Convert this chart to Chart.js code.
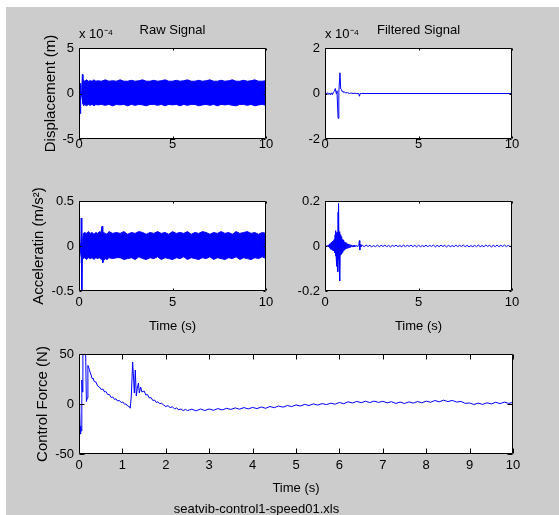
<!DOCTYPE html>
<html><head><meta charset="utf-8">
<script src="https://cdn.jsdelivr.net/npm/chart.js@4.4.1/dist/chart.umd.min.js"></script>
<style>
html,body{margin:0;padding:0;background:#fff;width:559px;height:515px;overflow:hidden}
#bg{position:absolute;left:6px;top:7px;width:553px;height:508px;background:#cccccc}
canvas{position:absolute;left:0;top:0}
</style></head><body>
<div id="bg"></div>
<canvas id="c1" width="559" height="515"></canvas>
<canvas id="c2" width="559" height="515"></canvas>
<canvas id="c3" width="559" height="515"></canvas>
<canvas id="c4" width="559" height="515"></canvas>
<canvas id="c5" width="559" height="515"></canvas>
<script>
// ---------- DATA ----------
// Raw displacement (x 1e-4 m): envelope of the dense oscillation
const dispRawT = [0,0.03,0.06,0.09,0.12,0.15,0.18,0.21,0.25,0.3,0.4,0.5,0.6,0.7,0.8,0.9,1.0,
  1.2,1.4,1.6,1.8,2.0,2.2,2.4,2.6,2.8,3.0,3.2,3.4,3.6,3.8,4.0,4.2,4.4,4.6,4.8,5.0,5.2,5.4,5.6,5.8,
  6.0,6.2,6.4,6.6,6.8,7.0,7.2,7.4,7.6,7.8,8.0,8.2,8.4,8.6,8.8,9.0,9.2,9.4,9.6,9.8,10.0];
const dispRawUp = [0,0.3,1.1,0.4,0.2,0.6,2.1,1.2,1.45,1.35,1.5,1.35,1.4,1.35,1.5,1.35,1.4,
  1.35,1.5,1.35,1.4,1.35,1.5,1.35,1.35,1.45,
  1.35,1.4,1.5,1.35,1.35,1.45,1.35,1.4,1.5,
  1.35,1.35,1.45,1.35,1.4,1.5,1.35,1.35,1.45,
  1.35,1.4,1.5,1.35,1.35,1.45,1.35,1.4,1.5,
  1.35,1.35,1.45,1.35,1.4,1.5,1.35,1.35,1.4];
const dispRawLo = [0,-0.5,-2.2,-0.8,-0.3,-0.2,-0.2,-1.1,-1.35,-1.2,-1.35,-1.2,-1.3,-1.2,-1.35,-1.2,-1.25,
  -1.2,-1.3,-1.2,-1.35,-1.2,-1.25,-1.2,-1.35,-1.2,
  -1.3,-1.2,-1.25,-1.35,-1.2,-1.2,-1.3,-1.2,-1.35,
  -1.2,-1.25,-1.2,-1.35,-1.2,-1.3,-1.2,-1.2,-1.35,
  -1.25,-1.2,-1.3,-1.2,-1.35,-1.2,-1.25,-1.2,-1.3,
  -1.35,-1.2,-1.2,-1.3,-1.2,-1.35,-1.25,-1.2,-1.3];

// Raw acceleration (m/s^2): envelope
const accRawT = [0,0.02,0.05,0.08,0.1,0.12,0.14,0.16,0.18,0.2,
  0.23,0.3,0.4,0.5,0.6,0.7,0.8,0.9,1.0,1.1,
  1.18,1.23,1.27,1.32,1.4,1.5,1.6,1.8,2.0,
  2.2,2.4,2.6,2.8,3.0,3.2,3.4,3.6,3.8,4.0,4.2,4.4,4.6,4.8,5.0,5.2,5.4,5.6,5.8,6.0,
  6.2,6.4,6.6,6.8,7.0,7.2,7.4,7.6,7.8,8.0,8.2,8.4,8.6,8.8,9.0,9.2,9.4,9.6,9.8,10.0];
const accRawUp = [0,0.07,0.04,0.03,0.05,0.31,0.05,0.02,0.04,0.08,
  0.14,0.15,0.14,0.16,0.14,0.15,0.13,0.15,0.14,0.16,
  0.15,0.22,0.14,0.15,0.14,0.13,0.16,0.14,0.15,
  0.14,0.16,0.13,0.15,0.14,0.16,0.15,0.13,0.15,0.14,
  0.16,0.14,0.15,0.13,0.16,0.14,0.15,0.14,0.16,0.13,
  0.15,0.14,0.16,0.15,0.13,0.15,0.14,0.16,0.14,0.15,
  0.13,0.16,0.14,0.15,0.16,0.14,0.15,0.13,0.15,0.14];
const accRawLo = [0,-0.19,-0.12,-0.06,-0.03,-0.02,-0.05,-0.49,-0.1,-0.12,
  -0.14,-0.13,-0.15,-0.13,-0.14,-0.13,-0.15,-0.13,-0.14,-0.13,
  -0.15,-0.14,-0.185,-0.16,-0.14,-0.15,-0.13,-0.14,-0.13,
  -0.13,-0.15,-0.14,-0.13,-0.15,-0.12,-0.14,-0.15,-0.13,-0.14,
  -0.12,-0.15,-0.13,-0.14,-0.15,-0.13,-0.14,-0.12,-0.15,-0.13,
  -0.14,-0.15,-0.13,-0.14,-0.12,-0.15,-0.13,-0.14,-0.15,-0.13,
  -0.14,-0.12,-0.15,-0.13,-0.14,-0.15,-0.13,-0.14,-0.12,-0.14];

// Filtered displacement (x 1e-4 m)
const dispFiltT = [0,0.1,0.15,0.2,0.25,0.3,0.35,0.4,0.45,0.5,0.55,0.6,0.64,0.7,0.74,0.8,0.84,0.88,0.92,0.96,
  1.0,1.05,1.1,1.2,1.3,1.4,1.5,1.6,1.7,1.8,1.84,1.88,1.95,2.2,10];
const dispFiltV = [0,0,0.03,-0.04,0.02,-0.06,0.03,-0.05,0.06,0.1,0.22,0.0,0.12,-1.09,0.05,0.91,0.2,0.18,0.08,0.1,
  0.04,0.07,0.02,0.04,0.0,0.02,0.0,0.01,0.0,0.0,-0.12,0.0,0.0,0.0,0.0];

// Filtered acceleration (m/s^2)
const accFiltT = [0,0.1,0.18,
  0.2,0.22,0.24,0.26,0.28,0.3,0.32,0.34,0.36,0.38,0.4,0.42,0.44,0.46,0.48,0.5,0.52,0.54,0.56,0.58,0.6,0.62,0.64,0.66,0.68,0.7,0.72,
  0.73,0.75,0.77,0.8,0.82,0.84,0.86,0.88,0.9,0.92,0.94,0.96,0.98,1.0,
  1.03,1.06,1.09,1.12,1.15,1.18,1.21,1.24,1.27,1.3,1.33,1.36,
  1.4,1.45,1.5,1.55,1.6,1.65,1.7,1.75,1.8,
  1.84,1.86,1.88,1.92,1.97];
const accFiltV = [0,0,0.002,
  -0.004,0.006,-0.008,0.01,-0.012,0.012,-0.014,0.016,-0.015,0.018,-0.02,0.022,-0.018,0.025,-0.022,0.03,-0.03,0.05,-0.045,0.068,-0.055,0.06,-0.09,0.06,-0.114,0.15,-0.06,
  0.19,-0.07,0.064,-0.155,0.05,-0.04,0.041,-0.035,0.035,-0.03,0.03,-0.025,0.025,-0.02,
  0.018,-0.016,0.015,-0.012,0.012,-0.01,0.01,-0.008,0.009,-0.007,0.007,-0.006,
  0.005,-0.005,0.004,-0.004,0.004,-0.003,0.003,-0.003,0.002,
  0.024,-0.018,0.006,-0.004,0.004];
// ripple sampled every 0.1 s from 2.0 s to 10.0 s
const accFiltTailStart = 2.0, accFiltTailStep = 0.1;
const accFiltTail = [0.003,-0.003,0.004,-0.002,0.003,-0.004,0.002,-0.003,0.004,-0.003,
  0.003,-0.002,0.004,-0.003,0.003,-0.004,0.003,-0.002,0.004,-0.003,
  0.002,-0.003,0.004,-0.003,0.003,-0.002,0.004,-0.003,0.003,-0.004,
  0.003,-0.003,0.002,-0.003,0.004,-0.003,0.003,-0.002,0.004,-0.004,
  0.003,-0.003,0.004,-0.002,0.003,-0.004,0.003,-0.003,0.002,-0.003,
  0.004,-0.003,0.003,-0.002,0.004,-0.003,0.003,-0.004,0.002,-0.003,
  0.003,-0.003,0.004,-0.003,0.002,-0.003,0.004,-0.002,0.003,-0.004,
  0.003,-0.003,0.004,-0.003,0.003,-0.002,0.004,-0.003,0.003,-0.003,
  0.003];

// Control force (N)
const forceT = [0,0.01,0.02,0.03,0.04,0.05,0.065,0.08,0.09,0.12,0.15,0.17,0.19,0.205,
  0.22,0.24,0.26,0.28,0.3,0.32,0.35,0.39,0.43,0.47,0.51,0.55,0.59,0.62,0.66,0.7,0.74,0.78,0.82,0.85,
  0.89,0.93,0.97,1.01,1.05,1.08,1.12,1.16,1.18,
  1.205,1.236,1.26,1.275,1.297,1.32,1.344,1.37,1.39,1.42,1.45,1.5,1.54,1.58,1.62,1.66,1.7,1.74,1.78,1.82,
  1.86,1.9,1.95,
  2.0,2.05,2.1,2.15,2.2,2.25,2.3,2.35,2.4,2.45,2.5];
const forceV = [0,-28,-8,-30,-22,-27,24,12,60,70,60,2.5,6,38.5,
  37,34.5,31,29,25.5,26,22.5,22,18,17,14.5,15,12,12.5,9.5,9.5,6.5,7,4.5,5.2,
  3,3.6,1.5,2,-0.3,0.2,-2,-2.5,-4.2,
  8,42,24,11,34,8,16,21,11,17,12,13,9,9.5,6,6.5,3.5,4,1.5,2.2,
  0.3,0.8,-1,
  -2.5,-1.6,-3.6,-2.8,-4.8,-4.0,-5.9,-4.9,-6.6,-5.4,-6.5];
// sampled every 0.1 s from 2.6 s to 10.0 s
const forceTailStart = 2.6, forceTailStep = 0.1;
const forceTail = [-5.2,-6.8,-5.0,-6.5,-5.0,-6.3,-4.6,-5.9,-4.3,-5.4,
  -3.9,-5.2,-3.6,-4.9,-3.4,-4.6,-3.0,-4.3,-2.5,-3.7,
  -2.0,-3.2,-1.5,-2.6,-0.9,-2.0,-0.4,-1.5,0.1,-1.1,
  0.4,-0.6,0.8,-0.2,1.5,0.3,2.2,1.0,2.6,1.3,
  2.8,1.4,2.9,1.6,2.7,1.2,2.3,0.6,1.9,0.5,
  2.1,0.9,2.5,1.2,2.9,1.7,3.5,2.2,3.8,2.4,
  3.6,1.9,2.6,0.6,1.0,-0.5,0.9,-0.4,1.2,0.1,
  1.7,0.4,1.9,0.6,1.6];

// Tick settings
const timeTicksCoarse = 5, timeTicksFine = 1;
const dispRawTicks = [-5, 5, 5], dispFiltTicks = [-2, 2, 2];
const accRawTicks = [-0.5, 0.5, 0.5], accFiltTicks = [-0.2, 0.2, 0.2], forceTicks = [-50, 50, 50];

// ---------- RENDER ----------
const W = 559, H = 515;
const BLUE = '#0000ff';
const FONT_H = "'Liberation Sans', Arial, sans-serif";
const FS = 13;
const FONT_V = "'Liberation Sans', Arial, sans-serif";

function pts(ts, vs) { return ts.map((t, i) => ({x: t, y: vs[i]})); }
function tailPts(start, step, vs) { return vs.map((v, i) => ({x: +(start + i * step).toFixed(3), y: v})); }
function ds(data, extra) {
  return Object.assign({data, borderColor: BLUE, backgroundColor: BLUE, borderWidth: 1,
    pointRadius: 0, tension: 0, fill: false}, extra || {});
}

const frame = {
  id: 'frame',
  beforeDraw(chart) {
    const {ctx, chartArea: a} = chart;
    ctx.save(); ctx.fillStyle = '#fff';
    ctx.fillRect(a.left, a.top, a.right - a.left, a.bottom - a.top);
    ctx.restore();
  },
  afterDraw(chart) {
    const {ctx, chartArea: a} = chart;
    const xs = chart.scales.x, ys = chart.scales.y;
    const L = a.left + 0.5, R = a.right - 0.5, T = a.top + 0.5, B = a.bottom - 0.5;
    const len = Math.max(2, Math.round(0.011 * Math.max(a.right - a.left, a.bottom - a.top)));
    ctx.save();
    ctx.strokeStyle = '#000'; ctx.lineWidth = 1;
    ctx.beginPath();
    xs.ticks.forEach(tk => {
      const p = Math.round(xs.getPixelForValue(tk.value)) + 0.5;
      ctx.moveTo(p, B); ctx.lineTo(p, B - len);
      ctx.moveTo(p, T); ctx.lineTo(p, T + len);
    });
    ys.ticks.forEach(tk => {
      const p = Math.round(ys.getPixelForValue(tk.value)) + 0.5;
      ctx.moveTo(L, p); ctx.lineTo(L + len, p);
      ctx.moveTo(R, p); ctx.lineTo(R - len, p);
    });
    ctx.rect(L, T, R - L, B - T);
    ctx.stroke();
    ctx.restore();
  }
};

function makeChart(id, o) {
  const plugins = {legend: {display: false}, tooltip: {enabled: false},
    title: {display: false}, subtitle: {display: false}};
  let topBoxes = 0, bottomBoxes = 0;
  if (o.title) {
    plugins.title = {display: true, text: o.title, position: 'top', fullSize: false, align: 'center',
      color: '#000', font: {family: FONT_H, size: FS, weight: 'normal'}, padding: {top: 22.7, bottom: -15.3}};
    topBoxes += 23;
  }
  if (o.sub) {
    plugins.subtitle = {display: true, text: o.sub, position: 'top', fullSize: false, align: 'start',
      color: '#000', font: {family: FONT_H, size: FS, weight: 'normal'}, padding: {top: 3.7, bottom: 5.7}};
    topBoxes += 25;
  }
  if (o.foot) {
    plugins.title = {display: true, text: o.foot, position: 'bottom', fullSize: true, align: 'center',
      color: '#000', font: {family: FONT_H, size: FS, weight: 'normal', lineHeight: 0.8}, padding: 0};
    bottomBoxes = FS * 0.8;
  }
  const xH = H - o.b - bottomBoxes;
  return new Chart(document.getElementById(id), {
    type: 'line',
    data: {datasets: o.datasets},
    options: {
      responsive: false, animation: false, devicePixelRatio: 1,
      events: [],
      layout: {padding: {left: 0, right: W - o.r, top: o.t - topBoxes, bottom: 0}},
      plugins,
      scales: {
        x: {
          type: 'linear', position: 'bottom', min: 0, max: 10,
          grid: {display: false, drawTicks: false}, border: {display: false},
          ticks: {stepSize: o.xStep, autoSkip: false, maxRotation: 0, padding: o.xTickPad,
            color: '#000', font: {family: FONT_H, size: FS}},
          title: o.xTitle ? {display: true, text: o.xTitle, color: '#000',
            font: {family: FONT_H, size: FS}, padding: {top: 0, bottom: o.xTitlePad}} : {display: false},
          afterFit(s) { s.height = xH; }
        },
        y: {
          type: 'linear', position: 'left', min: o.yTicks[0], max: o.yTicks[1],
          grid: {display: false, drawTicks: false}, border: {display: false},
          ticks: {stepSize: o.yTicks[2], padding: 5, color: '#000', font: {family: FONT_H, size: FS}},
          title: o.yTitle ? {display: true, text: o.yTitle, color: '#000',
            font: {family: FONT_V, size: 15}, padding: {top: o.yTitlePad, bottom: 0}} : {display: false},
          afterFit(s) { s.width = o.l; }
        }
      }
    },
    plugins: [frame]
  });
}

makeChart('c1', {l: 79, r: 266, t: 48, b: 139, xStep: timeTicksCoarse, xTickPad: -2,
  yTicks: dispRawTicks, yTitle: 'Displacement (m)', yTitlePad: 42,
  title: 'Raw Signal', sub: 'x 10\u207B\u2074',
  datasets: [ds(pts(dispRawT, dispRawUp), {fill: '+1'}), ds(pts(dispRawT, dispRawLo))]});

makeChart('c2', {l: 325, r: 512, t: 48, b: 139, xStep: timeTicksCoarse, xTickPad: -2,
  yTicks: dispFiltTicks, title: 'Filtered Signal', sub: 'x 10\u207B\u2074',
  datasets: [ds(pts(dispFiltT, dispFiltV))]});

makeChart('c3', {l: 79, r: 266, t: 201, b: 291, xStep: timeTicksCoarse, xTickPad: 4,
  yTicks: accRawTicks, yTitle: 'Acceleratin (m/s\u00B2)', yTitlePad: 30,
  xTitle: 'Time (s)', xTitlePad: 180.7,
  datasets: [ds(pts(accRawT, accRawUp), {fill: '+1'}), ds(pts(accRawT, accRawLo))]});

makeChart('c4', {l: 325, r: 512, t: 201, b: 291, xStep: timeTicksCoarse, xTickPad: 4,
  yTicks: accFiltTicks, xTitle: 'Time (s)', xTitlePad: 180.7,
  datasets: [ds(pts(accFiltT, accFiltV).concat(tailPts(accFiltTailStart, accFiltTailStep, accFiltTail)))]});

makeChart('c5', {l: 79, r: 513, t: 354, b: 454, xStep: timeTicksFine, xTickPad: 4,
  yTicks: forceTicks, yTitle: 'Control Force (N)', yTitlePad: 34,
  xTitle: 'Time (s)', xTitlePad: 8.6, foot: 'seatvib-control1-speed01.xls',
  datasets: [ds(pts(forceT, forceV).concat(tailPts(forceTailStart, forceTailStep, forceTail)))]});
</script>
</body></html>
